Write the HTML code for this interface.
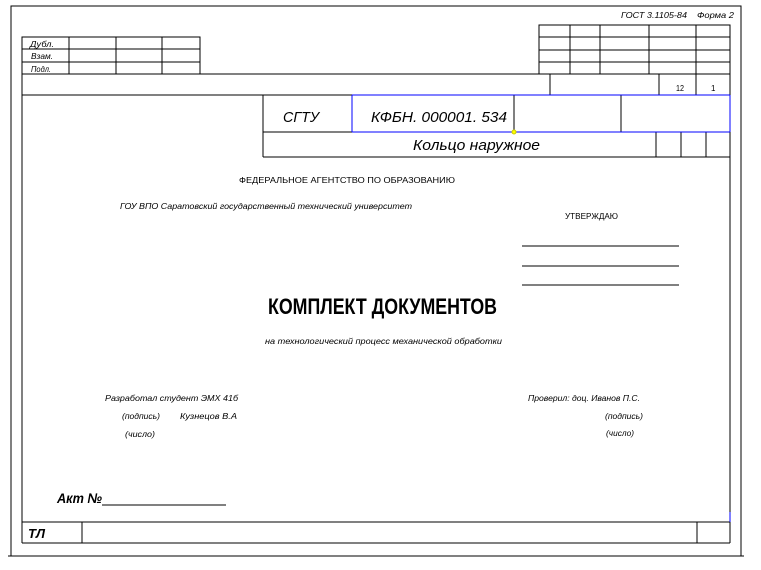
<!DOCTYPE html>
<html><head><meta charset="utf-8"><style>
html,body{margin:0;padding:0;background:#fff;}
svg{display:block;font-family:"Liberation Sans","DejaVu Sans",sans-serif;}
</style></head><body>
<svg width="761" height="570" viewBox="0 0 761 570" xmlns="http://www.w3.org/2000/svg">
<g stroke="#000" stroke-width="1.2" fill="none" shape-rendering="crispEdges">
<polyline points="11,556 11,6 741,6 741,556"/>
<line x1="8" y1="556" x2="744" y2="556"/>
<line x1="22" y1="74" x2="22" y2="543"/>
<line x1="730" y1="25" x2="730" y2="543"/>
<line x1="22" y1="543" x2="730" y2="543"/>
<line x1="22" y1="74" x2="730" y2="74"/>
<line x1="22" y1="95" x2="263" y2="95"/>
<rect x="22" y="37" width="178" height="37"/>
<line x1="22" y1="49" x2="200" y2="49"/>
<line x1="22" y1="62" x2="200" y2="62"/>
<line x1="69" y1="37" x2="69" y2="74"/>
<line x1="116" y1="37" x2="116" y2="74"/>
<line x1="162" y1="37" x2="162" y2="74"/>
<rect x="539" y="25" width="191" height="49"/>
<line x1="539" y1="37" x2="730" y2="37"/>
<line x1="539" y1="50" x2="730" y2="50"/>
<line x1="539" y1="62" x2="730" y2="62"/>
<line x1="570" y1="25" x2="570" y2="74"/>
<line x1="600" y1="25" x2="600" y2="74"/>
<line x1="649" y1="25" x2="649" y2="74"/>
<line x1="696" y1="25" x2="696" y2="74"/>
<line x1="550" y1="74" x2="550" y2="95"/>
<line x1="659" y1="74" x2="659" y2="95"/>
<line x1="696" y1="74" x2="696" y2="95"/>
<line x1="263" y1="95" x2="263" y2="157"/>
<line x1="263" y1="95" x2="352" y2="95"/>
<line x1="263" y1="132" x2="352" y2="132"/>
<line x1="263" y1="157" x2="730" y2="157"/>
<line x1="514" y1="95" x2="514" y2="132"/>
<line x1="621" y1="95" x2="621" y2="132"/>
<line x1="656" y1="132" x2="656" y2="157"/>
<line x1="681" y1="132" x2="681" y2="157"/>
<line x1="706" y1="132" x2="706" y2="157"/>
<line x1="522" y1="246" x2="679" y2="246"/>
<line x1="522" y1="266" x2="679" y2="266"/>
<line x1="522" y1="285" x2="679" y2="285"/>
<line x1="102" y1="505" x2="226" y2="505"/>
<line x1="22" y1="522" x2="730" y2="522"/>
<line x1="82" y1="522" x2="82" y2="543"/>
<line x1="697" y1="522" x2="697" y2="543"/>
</g>
<g stroke="#00f" stroke-width="1.2" fill="none" shape-rendering="crispEdges">
<line x1="352" y1="95" x2="730" y2="95"/>
<line x1="352" y1="132" x2="730" y2="132"/>
<line x1="352" y1="95" x2="352" y2="132"/>
<line x1="730" y1="95" x2="730" y2="132"/>
<line x1="730" y1="512" x2="730" y2="522"/>
</g>
<circle cx="514" cy="132" r="2" fill="#ff0" stroke="#cc0"/>
<g fill="#000" font-style="italic">
<text x="30" y="47" font-size="8" textLength="24" lengthAdjust="spacingAndGlyphs">Дубл.</text>
<text x="31" y="59" font-size="8" textLength="22" lengthAdjust="spacingAndGlyphs">Взам.</text>
<text x="31" y="72" font-size="8" textLength="20" lengthAdjust="spacingAndGlyphs">Подл.</text>
<text x="621" y="18" font-size="8" textLength="66" lengthAdjust="spacingAndGlyphs">ГОСТ 3.1105-84</text>
<text x="697" y="18" font-size="8" textLength="37" lengthAdjust="spacingAndGlyphs">Форма 2</text>
<text x="283" y="122" font-size="15" textLength="36" lengthAdjust="spacingAndGlyphs">СГТУ</text>
<text x="371" y="122" font-size="15" textLength="136" lengthAdjust="spacingAndGlyphs">КФБН. 000001. 534</text>
<text x="413" y="150" font-size="15" textLength="127" lengthAdjust="spacingAndGlyphs">Кольцо наружное</text>
<text x="105" y="401" font-size="8" textLength="133" lengthAdjust="spacingAndGlyphs">Разработал студент ЭМХ 41б</text>
<text x="122" y="419" font-size="8" textLength="38" lengthAdjust="spacingAndGlyphs">(подпись)</text>
<text x="180" y="419" font-size="8" textLength="57" lengthAdjust="spacingAndGlyphs">Кузнецов В.А</text>
<text x="125" y="437" font-size="8" textLength="30" lengthAdjust="spacingAndGlyphs">(число)</text>
<text x="528" y="401" font-size="8" textLength="112" lengthAdjust="spacingAndGlyphs">Проверил: доц. Иванов П.С.</text>
<text x="605" y="419" font-size="8" textLength="38" lengthAdjust="spacingAndGlyphs">(подпись)</text>
<text x="606" y="436" font-size="8" textLength="28" lengthAdjust="spacingAndGlyphs">(число)</text>
<text x="57" y="503" font-size="14" font-weight="bold" textLength="45" lengthAdjust="spacingAndGlyphs">Акт №</text>
<text x="28" y="538" font-size="13" font-weight="bold" textLength="17" lengthAdjust="spacingAndGlyphs">ТЛ</text>
<text x="120" y="209" font-size="8" textLength="292" lengthAdjust="spacingAndGlyphs">ГОУ ВПО Саратовский государственный технический университет</text>
<text x="265" y="344" font-size="8" textLength="237" lengthAdjust="spacingAndGlyphs">на технологический процесс механической обработки</text>
</g>
<g fill="#000">
<text x="676" y="91" font-size="8" textLength="8" lengthAdjust="spacingAndGlyphs">12</text>
<text x="711" y="91" font-size="8">1</text>
<text x="239" y="183" font-size="8" textLength="216" lengthAdjust="spacingAndGlyphs">ФЕДЕРАЛЬНОЕ АГЕНТСТВО ПО ОБРАЗОВАНИЮ</text>
<text x="565" y="219" font-size="8" textLength="53" lengthAdjust="spacingAndGlyphs">УТВЕРЖДАЮ</text>
<text x="268" y="314" font-size="22" font-weight="bold" textLength="229" lengthAdjust="spacingAndGlyphs">КОМПЛЕКТ ДОКУМЕНТОВ</text>
</g>
</svg>
</body></html>
